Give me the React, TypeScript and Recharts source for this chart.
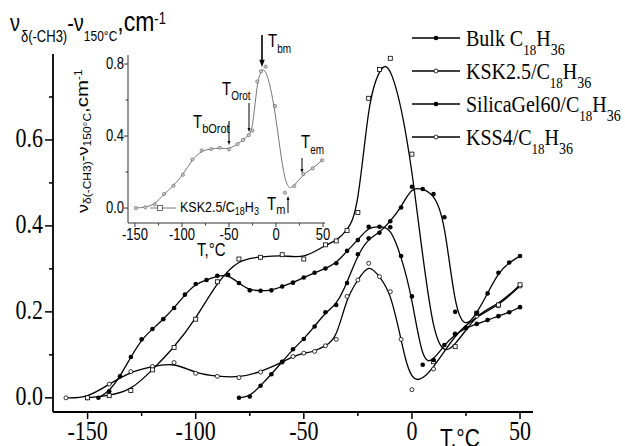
import React from 'react';
import { LineChart, Line, XAxis, YAxis } from 'recharts';

// ---------- data (main chart, measured marker values) ----------
const bulkX = [-80, -75, -70, -65, -60, -55, -50, -45, -40, -35, -30, -25, -20, -15, -10, -5, 0, 5, 10, 15, 20, 25, 30, 35, 40, 45, 50];
const bulkY = [0, 0.003, 0.028, 0.055, 0.084, 0.113, 0.137, 0.166, 0.199, 0.216, 0.267, 0.334, 0.371, 0.384, 0.411, 0.443, 0.491, 0.486, 0.474, 0.42, 0.2, 0.163, 0.197, 0.243, 0.291, 0.315, 0.33];

const kskX = [-150, -140, -130, -120, -110, -100, -90, -80, -70, -60, -50, -40, -35, -30, -25, -20, -15, -10, 0, 10, 20, 30, 40, 50];
const kskY = [0, 0.005, 0.017, 0.065, 0.117, 0.183, 0.27, 0.323, 0.327, 0.333, 0.323, 0.356, 0.365, 0.389, 0.431, 0.697, 0.764, 0.79, 0.567, 0.084, 0.119, 0.197, 0.216, 0.263];

const silX = [-145, -140, -135, -130, -125, -120, -115, -110, -105, -100, -95, -90, -85, -80, -75, -70, -65, -60, -55, -50, -45, -40, -35, -30, -25, -20, -15, -10, -5, 0, 5, 10, 15, 20, 25, 30, 35, 40, 45, 50];
const silY = [0, 0.015, 0.05, 0.095, 0.136, 0.16, 0.183, 0.209, 0.24, 0.265, 0.274, 0.284, 0.286, 0.267, 0.25, 0.249, 0.25, 0.259, 0.268, 0.28, 0.291, 0.301, 0.313, 0.342, 0.367, 0.398, 0.398, 0.397, 0.33, 0.236, 0.077, 0.088, 0.123, 0.148, 0.162, 0.172, 0.181, 0.19, 0.199, 0.211];

const kssX = [-160, -150, -140, -130, -120, -110, -100, -90, -80, -70, -60, -55, -50, -45, -40, -35, -30, -25, -20, -15, -10, -5, 0, 10, 20, 30, 40, 50];
const kssY = [0, 0, 0.032, 0.061, 0.073, 0.082, 0.057, 0.05, 0.047, 0.06, 0.083, 0.096, 0.104, 0.108, 0.121, 0.136, 0.236, 0.274, 0.313, 0.282, 0.247, 0.136, 0.019, 0.067, 0.149, 0.19, 0.214, 0.26];

// ---------- data (inset: KSK2.5/C18H36) ----------
const insetX = [-149, -139, -129, -119, -109, -99, -89, -79, -69, -60, -50, -41, -35, -29, -25, -20, -16, -11, -1, 9.5, 19.5, 29, 39, 49];
const insetY = [0, 0.004, 0.02, 0.078, 0.124, 0.185, 0.27, 0.32, 0.328, 0.335, 0.326, 0.355, 0.378, 0.405, 0.43, 0.703, 0.76, 0.785, 0.567, 0.085, 0.122, 0.189, 0.22, 0.265];

// ---------- ticks ----------
const xMajor = [-150, -100, -50, 0, 50];
const xMinor = [-125, -75, -25, 25];
const yMajor = [0, 0.2, 0.4, 0.6];
const yMinor = [0.1, 0.3, 0.5, 0.7];
const insetYMajor = [0, 0.4, 0.8];
const insetYMinor = [0.2, 0.6];

// legend labels: [text, sub, text, sub]
const legendLabels: string[][] = [
  ['Bulk C', '18', 'H', '36'],
  ['KSK2.5/C', '18', 'H', '36'],
  ['SilicaGel60/C', '18', 'H', '36'],
  ['KSS4/C', '18', 'H', '36'],
];

const zip = (xs: number[], ys: number[]) => xs.map((x, i) => ({ x, y: ys[i] }));
const bulkData = zip(bulkX, bulkY);
const kskData = zip(kskX, kskY);
const silData = zip(silX, silY);
const kssData = zip(kssX, kssY);
const insetData = zip(insetX, insetY);

const SERIF = '"Liberation Serif", "Times New Roman", serif';
const SANS = '"Liberation Sans", Arial, sans-serif';
const SY = 1.2;

function ST(props: any) {
  const { x, y, anchor = 'start', size, family = SERIF, rotate = false, children } = props;
  return (
    <g transform={`translate(${x},${y}) scale(1,${SY})${rotate ? ' rotate(-90)' : ''}`}>
      <text x={0} y={0} textAnchor={anchor} fontSize={size} fontFamily={family} fill="#000">
        {children}
      </text>
    </g>
  );
}

const FilledDot = (p: any) =>
  p.cx == null ? <g key={p.index} /> : <circle key={p.index} cx={p.cx} cy={p.cy} r={2.3} fill="#000" />;
const OpenDot = (p: any) =>
  p.cx == null ? <g key={p.index} /> : <circle key={p.index} cx={p.cx} cy={p.cy} r={2} fill="#fff" stroke="#000" strokeWidth={0.8} />;
const OpenSquare = (p: any) =>
  p.cx == null ? <g key={p.index} /> : <rect key={p.index} x={p.cx - 2} y={p.cy - 2} width={4} height={4} fill="#fff" stroke="#000" strokeWidth={0.8} />;
const InsetDot = (p: any) =>
  p.cx == null ? <g key={p.index} /> : <circle key={p.index} cx={p.cx} cy={p.cy} r={1.6} fill="#ccc" stroke="#555" strokeWidth={0.6} />;

const MainXTick = (props: any) => {
  const { x, y, payload } = props;
  const major = xMajor.includes(payload.value);
  return (
    <g>
      <line x1={x} x2={x} y1={y} y2={y + (major ? 7 : 4)} stroke="#000" strokeWidth={1.5} />
      {major && <ST x={x} y={y + 28} anchor="middle" size={22}>{String(payload.value)}</ST>}
    </g>
  );
};
const MainYTick = (props: any) => {
  const { x, y, payload } = props;
  const major = yMajor.some((v) => Math.abs(v - payload.value) < 1e-9);
  return (
    <g>
      <line x1={x - (major ? 8 : 4)} x2={x} y1={y} y2={y} stroke="#000" strokeWidth={1.5} />
      {major && <ST x={x - 10} y={y + 7.5} anchor="end" size={22}>{payload.value.toFixed(1)}</ST>}
    </g>
  );
};
const InsetXTick = (props: any) => {
  const { x, y, payload } = props;
  const major = xMajor.includes(payload.value);
  return (
    <g>
      <line x1={x} x2={x} y1={y} y2={y + (major ? 4 : 2.5)} stroke="#333" strokeWidth={1} />
      {major && <ST x={x} y={y + 17} anchor="middle" size={13} family={SANS}>{String(payload.value)}</ST>}
    </g>
  );
};
const InsetYTick = (props: any) => {
  const { x, y, payload } = props;
  const major = insetYMajor.some((v) => Math.abs(v - payload.value) < 1e-9);
  return (
    <g>
      <line x1={x - (major ? 4 : 2.5)} x2={x} y1={y} y2={y} stroke="#333" strokeWidth={1} />
      {major && <ST x={x - 4} y={y + 4.5} anchor="end" size={13} family={SANS}>{payload.value.toFixed(1)}</ST>}
    </g>
  );
};

const legendMarkers = [
  <circle cx={436} cy={0} r={2.3} fill="#000" />,
  <circle cx={436} cy={0} r={2} fill="#fff" stroke="#000" strokeWidth={0.8} />,
  <circle cx={436} cy={0} r={2.3} fill="#000" />,
  <circle cx={436} cy={0} r={2} fill="#fff" stroke="#000" strokeWidth={0.8} />,
];

const Arrow = ({ x, y1, y2, w = 1, head = 3 }: any) => {
  const dir = y2 > y1 ? 1 : -1;
  return (
    <g>
      <line x1={x} x2={x} y1={y1} y2={y2 - dir * head} stroke="#000" strokeWidth={w} />
      <polygon points={`${x - head * 0.6},${y2 - dir * head * 1.6} ${x + head * 0.6},${y2 - dir * head * 1.6} ${x},${y2}`} fill="#000" />
    </g>
  );
};

const TLabel = ({ x, y, sub, size = 15, subSize = 10, subDy = 4 }: any) => (
  <ST x={x} y={y} size={size} family={SANS}>
    T<tspan fontSize={subSize} dy={subDy}>{sub}</tspan>
  </ST>
);

export default function App() {
  return (
    <div style={{ position: 'absolute', left: 0, top: 0, width: 625, height: 446, background: '#fff', overflow: 'hidden' }}>
      <div style={{ position: 'absolute', left: 0, top: 0 }}>
        <LineChart width={625} height={446} margin={{ top: 54, right: 92, bottom: 0, left: 0 }}>
          <XAxis
            type="number"
            dataKey="x"
            domain={[-166, 56]}
            allowDataOverflow
            ticks={[...xMajor, ...xMinor].sort((a, b) => a - b)}
            interval={0}
            height={34}
            tickSize={0}
            tickMargin={0}
            tickLine={false}
            axisLine={{ stroke: '#000', strokeWidth: 1.8 }}
            tick={<MainXTick />}
          />
          <YAxis
            type="number"
            dataKey="y"
            domain={[-0.033, 0.8]}
            allowDataOverflow
            ticks={[...yMajor, ...yMinor].sort((a, b) => a - b)}
            interval={0}
            width={53}
            tickSize={0}
            tickMargin={0}
            tickLine={false}
            axisLine={{ stroke: '#000', strokeWidth: 1.8 }}
            tick={<MainYTick />}
          />
          <Line data={kssData} dataKey="y" type="basis" stroke="#000" strokeWidth={1.3} dot={OpenDot} isAnimationActive={false} />
          <Line data={kskData} dataKey="y" type="basis" stroke="#000" strokeWidth={1.3} dot={OpenSquare} isAnimationActive={false} />
          <Line data={silData} dataKey="y" type="basis" stroke="#000" strokeWidth={1.3} dot={FilledDot} isAnimationActive={false} />
          <Line data={bulkData} dataKey="y" type="basis" stroke="#000" strokeWidth={1.3} dot={FilledDot} isAnimationActive={false} />
        </LineChart>
      </div>

      <div style={{ position: 'absolute', left: 60, top: 40 }}>
        <LineChart width={300} height={230} margin={{ top: 15, right: 35, bottom: 0, left: 0 }}>
          <XAxis
            type="number"
            dataKey="x"
            domain={[-157.4, 52.1]}
            allowDataOverflow
            ticks={[...xMajor, ...xMinor].sort((a, b) => a - b)}
            interval={0}
            height={47}
            tickSize={0}
            tickMargin={0}
            tickLine={false}
            axisLine={{ stroke: '#333', strokeWidth: 1 }}
            tick={<InsetXTick />}
          />
          <YAxis
            type="number"
            dataKey="y"
            domain={[-0.083, 0.85]}
            allowDataOverflow
            ticks={[...insetYMajor, ...insetYMinor].sort((a, b) => a - b)}
            interval={0}
            width={68}
            tickSize={0}
            tickMargin={0}
            tickLine={false}
            axisLine={{ stroke: '#333', strokeWidth: 1 }}
            tick={<InsetYTick />}
          />
          <Line data={insetData} dataKey="y" type="basis" stroke="#777" strokeWidth={1} dot={InsetDot} isAnimationActive={false} />
        </LineChart>
      </div>

      <svg width={625} height={446} style={{ position: 'absolute', left: 0, top: 0, pointerEvents: 'none' }}>
        {/* main y label */}
        <ST x={10} y={31} size={20} family={SANS}>
          ν<tspan fontSize={13} x={11} dy={9}>δ(-CH3)</tspan>
          <tspan fontSize={20} dy={-9}>-ν</tspan>
          <tspan fontSize={12} dy={8}>150°C</tspan>
          <tspan fontSize={23} dy={-8}>,cm</tspan>
          <tspan fontSize={13} dy={-6}>-1</tspan>
        </ST>
        {/* main x label */}
        <ST x={440} y={447} size={21} family={SANS}>T,°C</ST>

        {/* legend */}
        {legendLabels.map((lab, i) => {
          const base = 46 + i * 33;
          const ly = base - 8;
          return (
            <g key={i}>
              <line x1={412} x2={460} y1={ly} y2={ly} stroke="#000" strokeWidth={1.3} />
              <g transform={`translate(0,${ly})`}>{legendMarkers[i]}</g>
              <ST x={466} y={base} size={20}>
                {lab[0]}
                <tspan fontSize={13} dy={7.5}>{lab[1]}</tspan>
                <tspan fontSize={20} dy={-7.5}>{lab[2]}</tspan>
                <tspan fontSize={14} dy={7.5}>{lab[3]}</tspan>
              </ST>
            </g>
          );
        })}

        {/* inset y label (rotated) */}
        <ST x={88} y={213} size={15} family={SANS} rotate>
          ν<tspan fontSize={10} dy={3}>δ(-CH3)</tspan>
          <tspan fontSize={15} dy={-3}>-ν</tspan>
          <tspan fontSize={10} dy={3}>150°C</tspan>
          <tspan fontSize={17} dy={-3}>,cm</tspan>
          <tspan fontSize={10} dy={-6}>-1</tspan>
        </ST>
        {/* inset x label */}
        <ST x={197} y={256} size={15} family={SANS}>T,°C</ST>

        {/* inset legend */}
        <line x1={150} x2={176} y1={208} y2={208} stroke="#777" strokeWidth={1} />
        <rect x={157.5} y={205.5} width={5} height={5} fill="#fff" stroke="#444" strokeWidth={0.8} />
        <ST x={180} y={212} size={12.5} family={SANS}>
          KSK2.5/C<tspan fontSize={9} dy={2.5}>18</tspan>
          <tspan fontSize={12.5} dy={-2.5}>H</tspan>
          <tspan fontSize={9} dy={2.5}>3</tspan>
        </ST>

        {/* inset annotations */}
        <TLabel x={193} y={128} sub="bOrot" size={15} subSize={11} subDy={4} />
        <Arrow x={229} y1={121} y2={145} w={1} head={2.5} />
        <TLabel x={222} y={95} sub="Orot" size={15} subSize={10} subDy={4} />
        <Arrow x={249} y1={103} y2={132} w={1} head={2.5} />
        <TLabel x={268} y={47} sub="bm" size={15} subSize={10} subDy={5} />
        <Arrow x={262} y1={35} y2={67} w={1.6} head={4.5} />
        <TLabel x={301} y={148} sub="em" size={15} subSize={10} subDy={5} />
        <Arrow x={302} y1={158} y2={173} w={1} head={2.5} />
        <TLabel x={267} y={210} sub="m" size={15} subSize={11} subDy={3} />
        <Arrow x={288} y1={213} y2={196} w={1} head={2.5} />
      </svg>
    </div>
  );
}
